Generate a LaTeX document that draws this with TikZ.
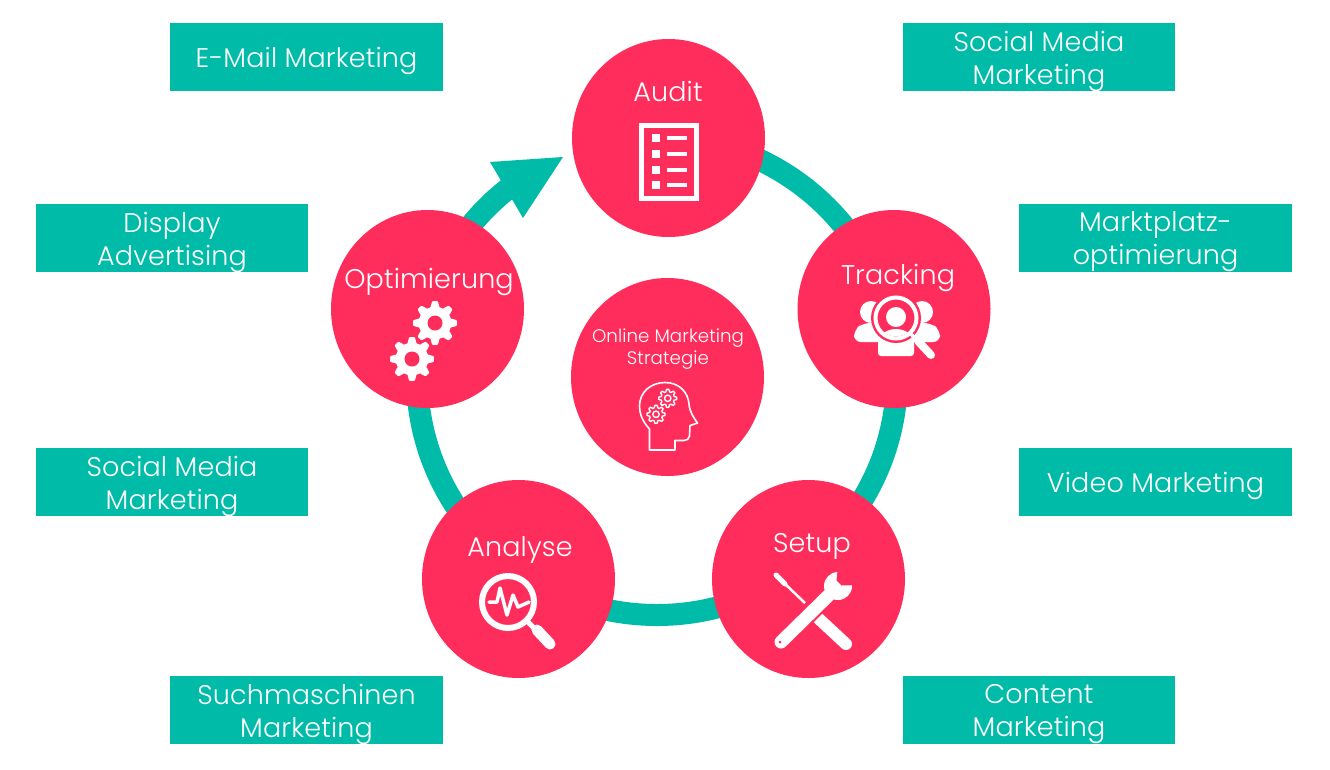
\documentclass[tikz,border=0pt]{standalone}
\usepackage{fontspec}
\usetikzlibrary{shapes.geometric}
\setmainfont{Poppins}[UprightFont=* Light, LetterSpace=0.5]

\definecolor{rosered}{HTML}{FF2D5C}
\definecolor{tealbox}{HTML}{00BBA8}

\tikzset{
    stepcircle/.style={ellipse, fill=rosered, minimum width=193pt, minimum height=198pt, inner sep=0pt},
    channelbox/.style={fill=tealbox, minimum width=272.6pt, minimum height=68pt, inner sep=0pt},
    channeltext/.style={text=white, inner sep=0pt, align=center, yshift=-4pt, font=\fontsize{27}{33}\selectfont},
    steplabel/.style={text=white, inner sep=0pt, anchor=base, font=\fontsize{27}{30}\selectfont},
    ringline/.style={draw=tealbox, line width=22pt},
    iconline/.style={draw=white, line cap=round, line join=round},
}

% gear outline: x, y, radius
\newcommand{\gearpath}[3]{
    plot[domain=0:360, samples=121, shift={(#1,#2)}] (\x:{#3*(0.87+0.13*max(min(1.7*cos(8*\x),1),-1))}) -- cycle
}
% teal box with its text: name, position, text
\newcommand{\channel}[3]{
    \node[channelbox] (#1) at #2 {};
    \node[channeltext] (#1text) at (#1) {#3};
}

\begin{document}
\begin{tikzpicture}[x=1pt, y=-1pt]
    \useasboundingbox (0,0) rectangle (1330,769);

    % ring and arrow
    \coordinate (ringstart) at (657,137);
    \coordinate (headtip) at (563,157);
    \coordinate (headleft) at (490,162);
    \coordinate (headright) at (523,218);
    \draw[ringline] (ringstart) arc[start angle=-90, end angle=232, x radius=240, y radius=239];
    \fill[tealbox] (headtip) -- (headleft) -- (headright) -- cycle;

    % steps
    \node[stepcircle] (audit) at (668.5,138) {};
    \node[stepcircle] (tracking) at (894,309) {};
    \node[stepcircle] (setup) at (808.5,579) {};
    \node[stepcircle] (analyse) at (518.5,579) {};
    \node[stepcircle] (optimierung) at (427.5,309) {};
    \node[stepcircle] (strategie) at (667.5,377) {};

    \node[steplabel] (auditlabel) at (668,101) {Audit};
    \node[steplabel] (trackinglabel) at (898,284) {Tracking};
    \node[steplabel] (setuplabel) at (812,552) {Setup};
    \node[steplabel] (analyselabel) at (520,556) {Analyse};
    \node[steplabel] (optimierunglabel) at (429,288) {Optimierung};
    \node[text=white, inner sep=0pt, align=center, font=\fontsize{18.2}{22.5}\selectfont] (strategielabel) at (668,349) {Online Marketing\\Strategie};

    % channels
    \channel{email}{(306.5,57)}{E-Mail Marketing}
    \channel{social}{(1039,57)}{Social Media\\Marketing}
    \channel{display}{(172,238)}{Display\\Advertising}
    \channel{marktplatz}{(1155.5,238)}{Marktplatz-\\optimierung}
    \channel{socialtwo}{(172,482)}{Social Media\\Marketing}
    \channel{video}{(1155.5,482)}{Video Marketing}
    \channel{such}{(306.5,710)}{Suchmaschinen\\Marketing}
    \channel{content}{(1039,710)}{Content\\Marketing}

    % audit icon
    \draw[white, line width=5.5pt] (641.5,125.5) rectangle (696.5,198.5);
    \foreach \y in {138,154,170,185} {
        \fill[white] (651.5,\y-4) rectangle (659.5,\y+4);
        \draw[white, line width=4pt] (667,\y) -- (687,\y);
    }

    % tracking icon
    \fill[white] (871,312) circle[radius=11];
    \fill[white] (922,312) circle[radius=11];
    \fill[white, rounded corners=7pt] (854,342) -- (854,330) -- (863,323) -- (885,323) -- (885,342) -- cycle;
    \fill[white, rounded corners=7pt] (940,342) -- (940,330) -- (931,323) -- (908,323) -- (908,342) -- cycle;
    \fill[white, rounded corners=3pt] (878,356) -- (878,335) -- (914,335) -- (914,356) -- cycle;
    \fill[rosered] (896,318) circle[radius=25];
    \draw[white, line width=4pt] (896,318) circle[radius=20.5];
    \fill[white] (896,317) circle[radius=10];
    \begin{scope}
        \clip (896,318) circle[radius=18.5];
        \fill[white] (896,347) ellipse[x radius=20, y radius=18];
    \end{scope}
    \draw[white, line width=3.5pt] (911,334) -- (918,342);
    \draw[iconline, line width=8pt] (918,341) -- (931,355);

    % gears
    \fill[white] \gearpath{435}{323}{22};
    \fill[rosered] (435,323) circle[radius=7.5];
    \fill[white] \gearpath{412}{359}{22};
    \fill[rosered] (412,359) circle[radius=7.5];

    % head icon
    \draw[iconline, line width=1.6pt] (649.5,450) -- (649.5,429)
        .. controls (642,421) and (639.5,413) .. (639.5,406)
        .. controls (639.5,392) and (651,382.5) .. (665,382.5)
        .. controls (679,382.5) and (688,392) .. (689,404)
        .. controls (689.5,412) and (694,418) .. (697.5,423)
        -- (690,425.5) -- (689.5,436)
        .. controls (689,439) and (687,440.5) .. (684,440.5)
        -- (675,440.5) -- (675,450) -- cycle;
    \draw[white, line width=1.4pt] \gearpath{667.7}{398.3}{9};
    \draw[white, line width=1.4pt] (667.7,398.3) circle[radius=3.2];
    \draw[white, line width=1.4pt] \gearpath{656}{414.3}{9};
    \draw[white, line width=1.4pt] (656,414.3) circle[radius=3.2];

    % setup icon
    \draw[white, line width=5pt, line cap=round] (776,575) -- (785,584);
    \draw[white, line width=2.5pt] (782,581) -- (805,603);
    \draw[iconline, line width=12pt] (818,618) -- (846,644);
    \draw[rosered, line width=18pt] (790,633) -- (826,597);
    \draw[iconline, line width=13pt] (781,642) -- (832,592);
    \fill[white] (838,586) circle[radius=14];
    \fill[rosered] (836.5,580.5) -- (838,566) -- (857,566) -- (857,585) -- (841.5,585.5) -- cycle;
    \fill[rosered] (780,642) circle[radius=1.5];

    % analyse icon
    \draw[white, line width=6pt] (508,602) circle[radius=26];
    \draw[iconline, line width=3.5pt] (489,602) -- (497,602) -- (500,588) -- (507,615) -- (513,595) -- (518,607) -- (529,602);
    \draw[white, line width=5pt] (528,622) -- (538,632);
    \draw[iconline, line width=11pt] (537,630) -- (550,644);
\end{tikzpicture}
\end{document}
